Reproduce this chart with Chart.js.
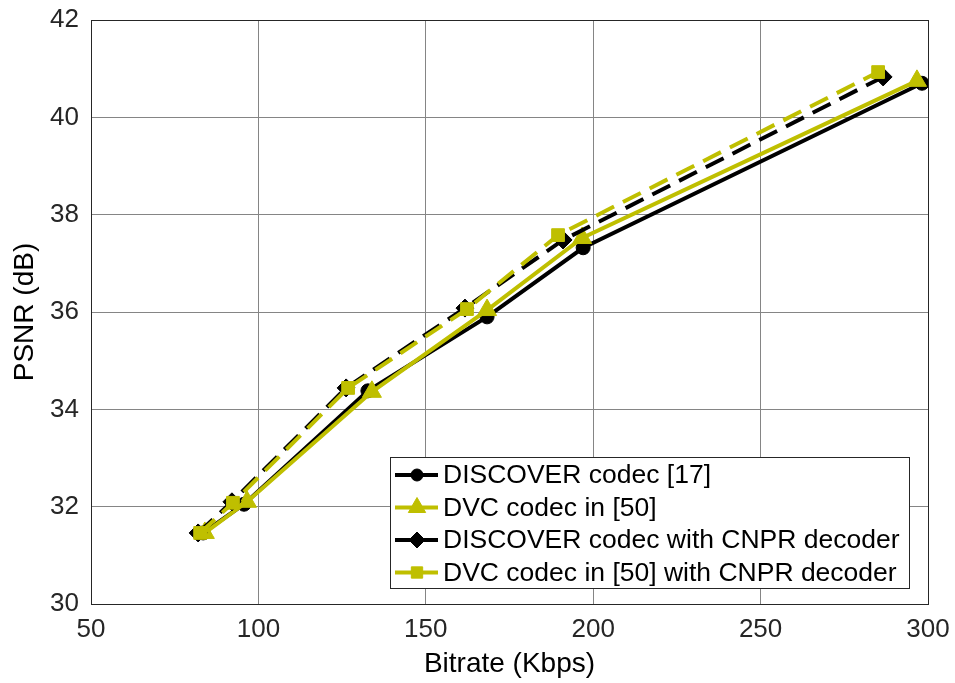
<!DOCTYPE html>
<html>
<head>
<meta charset="utf-8">
<script src="https://cdn.jsdelivr.net/npm/chart.js@4/dist/chart.umd.min.js"></script>
<style>
  body { margin: 0; background: #fff; }
  canvas { display: block; }
</style>
</head>
<body>
<canvas id="chart" width="955" height="683"></canvas>
<script>
// series (Bitrate in Kbps, PSNR in dB)
const seriesNames = [
  'DISCOVER codec [17]',
  'DVC codec in [50]',
  'DISCOVER codec with CNPR decoder',
  'DVC codec in [50] with CNPR decoder'
];
const discoverX = [83.5, 95.7, 132.7, 168.3, 197.0, 298.2];
const discoverY = [31.46, 32.05, 34.38, 35.90, 37.32, 40.70];
const dvcX = [84.0, 96.6, 133.9, 168.3, 196.7, 296.7];
const dvcY = [31.46, 32.10, 34.36, 36.04, 37.52, 40.75];
const discoverCnprX = [82.0, 92.1, 126.2, 161.7, 191.0, 286.6];
const discoverCnprY = [31.46, 32.10, 34.44, 36.08, 37.48, 40.83];
const dvcCnprX = [82.6, 92.4, 126.8, 162.3, 189.5, 285.1];
const dvcCnprY = [31.46, 32.08, 34.44, 36.06, 37.58, 40.93];

const xTicks = [50, 100, 150, 200, 250, 300];
const yTicks = [30, 32, 34, 36, 38, 40, 42];

const olive = '#bfbf00';
const FONT = 'Liberation Sans, Arial, sans-serif';

function pts(xs, ys) {
  return xs.map((x, i) => ({ x: x, y: ys[i] }));
}

const datasets = [
  { label: seriesNames[0], data: pts(discoverX, discoverY), borderColor: '#000', backgroundColor: '#000',
    pointStyle: 'circle', pointRadius: 7, borderWidth: 4, order: 4 },
  { label: seriesNames[1], data: pts(dvcX, dvcY), borderColor: olive, backgroundColor: olive,
    pointStyle: 'triangle', pointRadius: 11, borderWidth: 4, order: 3 },
  { label: seriesNames[2], data: pts(discoverCnprX, discoverCnprY), borderColor: '#000', backgroundColor: '#000',
    pointStyle: 'rectRot', pointRadius: 9, borderWidth: 4, borderDash: [20, 10], order: 2 },
  { label: seriesNames[3], data: pts(dvcCnprX, dvcCnprY), borderColor: olive, backgroundColor: olive,
    pointStyle: 'rect', pointRadius: 9, borderWidth: 4, borderDash: [20, 10], order: 1 }
];
datasets.forEach(d => {
  d.showLine = true;
  d.pointBorderWidth = 1;
  d.pointBorderColor = d.borderColor;
});

// legend box drawn inside the plot, bottom right like the original
const insideLegend = {
  id: 'insideLegend',
  afterDraw(chart) {
    const ctx = chart.ctx;
    const ca = chart.chartArea;
    const bx = ca.left + 299, by = ca.top + 437, bw = 519, bh = 131;
    ctx.save();
    ctx.fillStyle = '#fff';
    ctx.fillRect(bx, by, bw, bh);
    ctx.strokeStyle = '#262626';
    ctx.lineWidth = 1;
    ctx.strokeRect(bx + 0.5, by + 0.5, bw, bh);
    ctx.font = '26.5px ' + FONT;
    ctx.textBaseline = 'middle';
    datasets.forEach((d, i) => {
      const cy = by + 18 + i * 32.5;
      ctx.strokeStyle = d.borderColor;
      ctx.lineWidth = 4;
      ctx.setLineDash([]);
      ctx.beginPath();
      ctx.moveTo(bx + 5, cy);
      ctx.lineTo(bx + 48, cy);
      ctx.stroke();
      ctx.fillStyle = d.backgroundColor;
      ctx.strokeStyle = d.borderColor;
      ctx.lineWidth = 1;
      Chart.helpers.drawPoint(ctx, { pointStyle: d.pointStyle, radius: d.pointRadius - 1, borderWidth: 1 }, bx + 27, cy);
      ctx.fillStyle = '#000';
      ctx.fillText(d.label, bx + 53, cy + 1);
    });
    ctx.restore();
  }
};

// box the plot on the top and right sides as well
const frame = {
  id: 'frame',
  afterDatasetsDraw(chart) {
    const ctx = chart.ctx, ca = chart.chartArea;
    ctx.save();
    ctx.strokeStyle = '#262626';
    ctx.lineWidth = 1;
    ctx.strokeRect(ca.left + 0.5, ca.top + 0.5, ca.width, ca.height);
    ctx.restore();
  }
};

new Chart(document.getElementById('chart'), {
  type: 'scatter',
  data: { datasets: datasets },
  plugins: [frame, insideLegend],
  options: {
    responsive: false,
    animation: false,
    layout: { padding: { top: 20, right: 27, left: 0, bottom: 0 } },
    plugins: { legend: { display: false }, tooltip: { enabled: false } },
    scales: {
      x: {
        type: 'linear', min: 50, max: 300,
        afterBuildTicks: s => { s.ticks = xTicks.map(v => ({ value: v })); },
        afterFit: s => { s.height = 79; s.paddingLeft = 0; s.paddingRight = 0; },
        grid: { color: '#858585', lineWidth: 1, drawTicks: false },
        border: { color: '#262626', width: 1 },
        ticks: { color: '#262626', font: { family: FONT, size: 26 }, padding: 10 },
        title: { display: true, text: 'Bitrate (Kbps)', color: '#000', font: { family: FONT, size: 28 }, padding: { top: 2, bottom: 2 } }
      },
      y: {
        type: 'linear', min: 30, max: 42,
        afterBuildTicks: s => { s.ticks = yTicks.map(v => ({ value: v })); },
        afterFit: s => { s.width = 91; s.paddingTop = 0; s.paddingBottom = 0; },
        grid: { color: '#858585', lineWidth: 1, drawTicks: false },
        border: { color: '#262626', width: 1 },
        ticks: { color: '#262626', font: { family: FONT, size: 26 }, padding: 12 },
        title: { display: true, text: 'PSNR (dB)', color: '#000', font: { family: FONT, size: 28 }, padding: { top: 8, bottom: 8 } }
      }
    }
  }
});
</script>
</body>
</html>
